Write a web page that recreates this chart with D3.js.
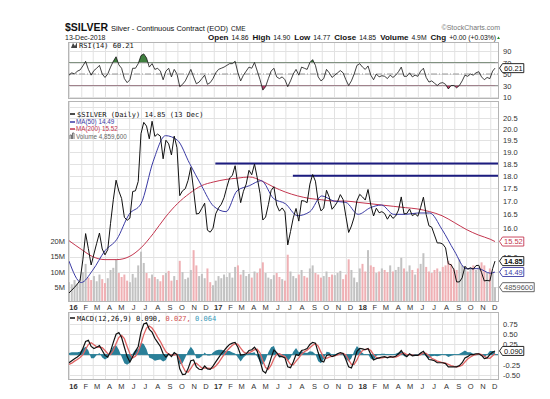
<!DOCTYPE html>
<html>
<head>
<meta charset="utf-8">
<script src="https://cdn.jsdelivr.net/npm/d3@7"></script>
<style>
  body { margin: 0; background: #fff; }
  svg { display: block; }
</style>
</head>
<body>
<svg id="chart" width="550" height="399"></svg>
<script>
// ---- data (weekly samples, first week 2016-01-01, last 2018-12-13) ----
const prices = [
  13.82, 13.91, 14.00, 14.10, 14.22, 14.89, 15.80, 15.27, 14.72, 15.09, 15.46, 15.82, 15.26,
  15.06, 15.24, 16.17, 17.05, 17.82, 17.39, 17.10, 16.39, 16.28, 16.36, 17.37, 17.40, 17.77,
  19.79, 20.30, 20.13, 19.56, 20.35, 19.67, 19.77, 19.68, 18.70, 19.50, 19.34, 18.86, 19.68, 19.17,
  17.21, 17.40, 17.48, 17.81, 18.34, 17.42, 16.51, 16.54, 16.73, 16.92, 15.92, 15.85, 15.99,
  16.52, 16.74, 16.88, 17.13, 17.54, 17.91, 18.01, 18.41, 17.63, 16.94, 17.38, 17.66, 18.22,
  18.04, 18.48, 17.91, 17.29, 16.29, 16.40, 16.86, 17.41, 17.56, 16.85, 16.62, 16.74, 16.59,
  15.40, 15.87, 16.37, 16.72, 16.25, 17.02, 17.00, 16.94, 17.66, 18.05, 17.78, 16.99, 16.63,
  16.73, 17.42, 17.15, 16.69, 16.82, 16.98, 17.25, 17.06, 16.43, 15.84, 16.07, 16.40, 17.02,
  17.26, 17.16, 17.04, 17.45, 16.85, 16.44, 16.73, 16.56, 16.60, 16.53, 16.32, 16.49, 16.35,
  16.44, 16.66, 17.16, 16.52, 16.53, 16.70, 16.45, 16.52, 16.43, 16.76, 17.15, 16.49, 16.08,
  16.03, 15.75, 15.47, 15.47, 15.43, 15.30, 14.76, 14.73, 14.57, 14.17, 14.17, 14.30, 14.68,
  14.58, 14.63, 14.58, 14.70, 14.71, 14.47, 14.20, 14.22, 14.20, 14.60, 14.85
];

// average daily volume, millions
const volumes = [
  6.5, 5.8, 7.2, 6.0, 7.5, 9.8, 12.5, 8.0, 7.2, 8.5, 6.8, 9.0, 7.5, 6.2, 7.8, 10.5, 11.2, 14.0,
  9.5, 8.2, 9.0, 7.0, 6.5, 9.2, 8.0, 12.0, 16.5, 12.8, 9.5, 7.8, 9.0, 8.2, 7.5, 6.8, 8.8, 9.5,
  10.2, 7.0, 8.5, 7.2, 13.5, 9.8, 7.5, 8.0, 10.5, 17.0, 12.0, 8.5, 9.2, 7.8, 11.0, 6.5, 5.5,
  7.0, 8.5, 7.8, 9.0, 8.2, 9.5, 8.0, 11.5, 12.0, 9.0, 10.5, 8.5, 9.2, 8.0, 10.0, 9.5, 11.0,
  13.0, 9.5, 8.0, 7.5, 8.8, 9.5, 8.2, 7.5, 7.0, 15.5, 10.0, 8.5, 7.8, 9.0, 10.5, 8.5, 8.0,
  11.0, 12.0, 9.5, 9.0, 8.0, 8.5, 10.0, 8.2, 9.0, 8.8, 9.5, 10.2, 7.5, 9.0, 14.0, 10.5, 8.0, 6.5,
  11.0, 12.5, 10.0, 17.0, 12.0, 11.5, 9.5, 10.0, 11.0, 10.5, 9.8, 12.0, 10.0, 10.5, 11.5, 14.5,
  11.0, 10.0, 12.0, 10.5, 9.0, 11.0, 12.5, 16.0, 11.5, 10.0, 9.5, 10.5, 11.0, 10.0, 11.5, 12.0,
  13.5, 12.5, 11.0, 10.5, 14.0, 12.0, 11.5, 10.0, 11.0, 12.0, 10.5, 11.5, 13.0, 12.0, 9.5, 11.0,
  10.0, 4.86
];

const rsi = [
  48, 52, 50, 55, 57, 64, 72, 58, 48, 56, 60, 65, 50, 44, 50, 62, 72, 80, 66, 60, 42, 35, 40,
  60, 60, 68, 82, 85, 78, 62, 68, 58, 60, 55, 40, 55, 60, 45, 58, 50, 28, 32, 38, 48, 58, 45,
  33, 36, 42, 48, 32, 35, 42,
  52, 58, 60, 62, 65, 68, 68, 72, 52, 38, 48, 55, 62, 60, 70, 55, 40, 22, 28, 42, 55, 60, 45,
  42, 45, 40, 28, 38, 50, 58, 48, 62, 60, 58, 70, 75, 65, 45, 38, 42, 58, 52, 44, 48, 52, 56,
  52, 40, 30, 38, 50, 65,
  68, 62, 58, 64, 48, 40, 50, 45, 47, 46, 42, 48, 44, 48, 54, 62, 46, 46, 52, 45, 48, 46, 55,
  60, 44, 36, 38, 34, 30, 34, 35, 32, 24, 30, 30, 26, 30, 38, 48, 46, 50, 48, 52, 54, 45, 40,
  44, 42, 55, 60.21
];

const macd = [
  -0.20, -0.15, -0.10, -0.06, 0.00, 0.15, 0.32, 0.35, 0.20, 0.15, 0.18, 0.22, 0.10, -0.02, -0.06,
  0.08, 0.30, 0.50, 0.54, 0.42, 0.18, -0.05, -0.18, -0.05, 0.08, 0.20, 0.55, 0.75, 0.78, 0.62,
  0.55, 0.40, 0.30, 0.20, 0.02, -0.06, 0.02, -0.05, 0.05, 0.00, -0.35, -0.49, -0.48, -0.35, -0.15,
  -0.13, -0.30, -0.36, -0.37, -0.28, -0.35, -0.36, -0.28,
  -0.18, -0.08, 0.02, 0.10, 0.18, 0.25, 0.28, 0.30, 0.18, -0.01, 0.00, 0.02, 0.10, 0.12, 0.18,
  0.08, -0.15, -0.40, -0.45, -0.30, -0.08, 0.11, 0.05, -0.05, -0.05, -0.08, -0.30, -0.32, -0.18,
  0.00, -0.02, 0.10, 0.12, 0.15, 0.25, 0.30, 0.28, 0.05, -0.15, -0.18, -0.02, 0.00, -0.05, -0.02,
  0.02, 0.05, 0.03, -0.12, -0.30, -0.33, -0.15, 0.08,
  0.15, 0.14, 0.12, 0.15, 0.00, -0.13, -0.10, -0.08, -0.06, -0.05, -0.08, -0.05, -0.06, -0.04,
  0.02, 0.10, 0.00, -0.05, 0.02, -0.03, -0.02, -0.02, 0.04, 0.08, -0.02, -0.12, -0.13, -0.15,
  -0.20, -0.20, -0.20, -0.22, -0.30, -0.30, -0.30, -0.30, -0.27, -0.20, -0.08, -0.05, 0.00, 0.00,
  0.02, 0.02, -0.02, -0.10, -0.08, 0.00, 0.06, 0.090
];

const signal = [
  -0.24, -0.21, -0.16, -0.12, -0.07, 0.00, 0.13, 0.25, 0.29, 0.24, 0.19, 0.18, 0.17, 0.10, 0.02,
  0.00, 0.10, 0.27, 0.42, 0.47, 0.39, 0.20, 0.02, -0.08, -0.04, 0.07, 0.26, 0.49, 0.65, 0.70,
  0.65, 0.55, 0.43, 0.32, 0.19, 0.07, 0.01, -0.01, -0.01, 0.01, -0.11, -0.28, -0.41, -0.43, -0.34,
  -0.23, -0.21, -0.27, -0.33, -0.33, -0.33, -0.34, -0.33,
  -0.28, -0.20, -0.10, 0.00, 0.09, 0.16, 0.23, 0.27, 0.25, 0.16, 0.07, 0.03, 0.04, 0.08, 0.12,
  0.13, 0.04, -0.15, -0.32, -0.36, -0.26, -0.10, 0.01, 0.02, -0.02, -0.05, -0.14, -0.24, -0.25,
  -0.16, -0.08, 0.01, 0.07, 0.11, 0.17, 0.23, 0.27, 0.21, 0.06, -0.07, -0.09, -0.06, -0.04, -0.03,
  -0.01, 0.02, 0.03, -0.01, -0.13, -0.24, -0.24, -0.13,
  0.02, 0.10, 0.13, 0.14, 0.10, 0.00, -0.07, -0.09, -0.08, -0.07, -0.07, -0.06, -0.06, -0.06,
  -0.03, 0.02, 0.04, 0.00, 0.00, -0.01, -0.02, -0.02, 0.00, 0.04, 0.03, -0.03, -0.09, -0.12,
  -0.16, -0.18, -0.20, -0.21, -0.24, -0.27, -0.29, -0.30, -0.29, -0.26, -0.18, -0.11, -0.06, -0.02,
  0.00, 0.02, 0.00, -0.04, -0.08, -0.09, -0.03, 0.027
];

// moving averages, read monthly
const maDates = [
  '2016-01-01', '2016-02-01', '2016-03-01', '2016-04-01', '2016-05-01', '2016-06-01',
  '2016-07-01', '2016-08-01', '2016-09-01', '2016-10-01', '2016-11-01', '2016-12-01',
  '2017-01-01', '2017-02-01', '2017-03-01', '2017-04-01', '2017-05-01', '2017-06-01',
  '2017-07-01', '2017-08-01', '2017-09-01', '2017-10-01', '2017-11-01', '2017-12-01',
  '2018-01-01', '2018-02-01', '2018-03-01', '2018-04-01', '2018-05-01', '2018-06-01',
  '2018-07-01', '2018-08-01', '2018-09-01', '2018-10-01', '2018-11-01', '2018-12-01', '2018-12-13'
];
const ma50 = [
  14.85, 14.15, 14.55, 15.2, 15.6, 16.5, 16.9, 18.6, 19.7, 19.5, 18.5, 17.6,
  16.8, 16.6, 17.4, 17.6, 17.8, 17.1, 16.9, 16.45, 16.6, 17.2, 17.0, 16.95,
  16.5, 16.75, 16.85, 16.5, 16.5, 16.55, 16.55, 15.95, 15.2, 14.6, 14.6, 14.45, 14.49
];
const ma200 = [
  15.55, 15.25, 15.0, 14.9, 14.9, 15.0, 15.3, 15.8, 16.4, 16.9, 17.3, 17.6,
  17.75, 17.85, 17.9, 17.95, 17.8, 17.55, 17.35, 17.2, 17.1, 17.05, 17.0, 17.0,
  16.95, 16.9, 16.85, 16.8, 16.75, 16.7, 16.6, 16.45, 16.2, 15.95, 15.75, 15.6, 15.52
];

// drawn support lines
const lineLevels = [18.5, 18.0];
const lineStarts = ['2017-01-05', '2017-07-20'];

// labels hidden under the value tags (15.5, 14.5, 14.0, 0.00) are left out
const priceTicks = [15.0, 16.0, 16.5, 17.0, 17.5, 18.0, 18.5, 19.0, 19.5, 20.0, 20.5];
const priceGrid = [14.0, 14.5, 15.0, 15.5, 16.0, 16.5, 17.0, 17.5, 18.0, 18.5, 19.0, 19.5, 20.0, 20.5, 21.0];
const volTicks = [5, 10, 15, 20];
const rsiTicks = [10, 30, 50, 70, 90];
const macdGrid = [-0.5, -0.25, 0, 0.25, 0.5, 0.75];
const macdTicks = [-0.5, -0.25, 0.25, 0.5, 0.75];

// ---- layout ----
const L = 68, R = 499;
const rsiTop = 42, rsiBot = 99, pTop = 101, pBot = 302, mTop = 312, mBot = 380;
const mono = '"DejaVu Sans Mono", monospace';
const sans = '"Liberation Sans", Arial, sans-serif';
const parse = d3.timeParse('%Y-%m-%d');

const svg = d3.select('#chart');

const dates = d3.timeFriday.range(new Date(2016, 0, 1), new Date(2018, 11, 14));
dates.push(new Date(2018, 11, 13));
const maD = maDates.map(parse);

const x = d3.scaleTime().domain([new Date(2016, 0, 1), new Date(2018, 11, 13)]).range([69, 495]);
const yP = d3.scaleLog().domain([20.5, 16]).range([118, 228]);
const yV = d3.scaleLinear().domain([0, 20]).range([pBot, 241]);
const yR = d3.scaleLinear().domain([10, 90]).range([97, 51]);
const yM = d3.scaleLinear().domain([-0.5, 0.75]).range([375, 324]);

const months = d3.timeMonth.range(new Date(2016, 0, 1), new Date(2018, 11, 14));

// panel frame + grid
function panel(top, bot, hLines, id) {
  const g = svg.append('g');
  g.append('rect').attr('x', L).attr('y', top).attr('width', R - L).attr('height', bot - top)
    .attr('fill', '#fff');
  g.selectAll('.v').data(months).join('line')
    .attr('x1', d => x(d) + 0.5).attr('x2', d => x(d) + 0.5)
    .attr('y1', top).attr('y2', bot)
    .attr('stroke', '#e2e2e2').attr('stroke-width', 1);
  g.selectAll('.h').data(hLines).join('line')
    .attr('x1', L).attr('x2', R)
    .attr('y1', d => Math.round(d) + 0.5).attr('y2', d => Math.round(d) + 0.5)
    .attr('stroke', '#e2e2e2').attr('stroke-width', 1);
  svg.append('clipPath').attr('id', id)
    .append('rect').attr('x', L).attr('y', top).attr('width', R - L).attr('height', bot - top);
  return g;
}

panel(rsiTop, rsiBot, rsiTicks.map(yR), 'clipR');
panel(pTop, pBot, priceGrid.map(yP), 'clipP');
panel(mTop, mBot, macdGrid.map(yM), 'clipM');

// ---- header ----
const title = svg.append('text').attr('x', 65).attr('y', 31).attr('font-family', sans).attr('fill', '#111');
title.append('tspan').attr('font-size', 10.5).attr('font-weight', 'bold').text('$SILVER');
title.append('tspan').attr('font-size', 7.5).attr('dx', 3).text('Silver - Continuous Contract (EOD)');
title.append('tspan').attr('font-size', 6.5).attr('dx', 3).text('CME');

svg.append('text').attr('x', 500).attr('y', 30).attr('text-anchor', 'end')
  .attr('font-family', sans).attr('font-size', 7).attr('fill', '#777').text('\u00a9StockCharts.com');

svg.append('text').attr('x', 65).attr('y', 40).attr('font-family', sans).attr('font-size', 7)
  .attr('fill', '#222').text('13-Dec-2018');

const quote = [['Open', '14.86'], ['High', '14.90'], ['Low', '14.77'], ['Close', '14.85'],
  ['Volume', '4.9M'], ['Chg', '+0.00 (+0.03%)']];
const q = svg.append('text').attr('x', 496).attr('y', 40).attr('text-anchor', 'end')
  .attr('font-family', sans).attr('fill', '#111');
quote.forEach((p, i) => {
  q.append('tspan').attr('font-size', 8).attr('font-weight', 'bold').attr('dx', i ? 4 : 0).text(p[0]);
  q.append('tspan').attr('font-size', 6.8).attr('dx', 3).text(p[1]);
});
svg.append('path').attr('d', 'M497,39 L500,39 L498.5,36.5 Z').attr('fill', '#2a8a2a');

// ---- RSI panel ----
const rsiPts = dates.map((d, i) => [x(d), yR(rsi[i])]);
svg.append('line').attr('x1', L).attr('x2', R).attr('y1', yR(70)).attr('y2', yR(70))
  .attr('stroke', '#999').attr('stroke-width', 1);
svg.append('line').attr('x1', L).attr('x2', R).attr('y1', yR(30)).attr('y2', yR(30))
  .attr('stroke', '#999').attr('stroke-width', 1);
svg.append('line').attr('x1', L).attr('x2', R).attr('y1', yR(50)).attr('y2', yR(50))
  .attr('stroke', '#999').attr('stroke-width', 1).attr('stroke-dasharray', '6,2,1,2');

svg.append('clipPath').attr('id', 'ob')
  .append('rect').attr('x', L).attr('y', rsiTop).attr('width', R - L).attr('height', yR(70) - rsiTop);
svg.append('clipPath').attr('id', 'os')
  .append('rect').attr('x', L).attr('y', yR(30)).attr('width', R - L).attr('height', rsiBot - yR(30));

svg.append('path').datum(rsiPts).attr('clip-path', 'url(#ob)')
  .attr('d', d3.area().x(d => d[0]).y0(yR(70)).y1(d => d[1]))
  .attr('fill', '#3f7f3f');
svg.append('path').datum(rsiPts).attr('clip-path', 'url(#os)')
  .attr('d', d3.area().x(d => d[0]).y0(yR(30)).y1(d => d[1]))
  .attr('fill', '#b8406a');
svg.append('path').datum(rsiPts).attr('clip-path', 'url(#clipR)')
  .attr('d', d3.line()).attr('fill', 'none').attr('stroke', '#111').attr('stroke-width', 0.8);

svg.selectAll('.rsiLab').data(rsiTicks).join('text')
  .attr('x', 503).attr('y', d => yR(d) + 3)
  .attr('font-family', sans).attr('font-size', 7.5).attr('fill', '#333').text(d => d);

const rl = svg.append('g');
rl.append('path').attr('d', 'M71,48 L73,43 L75,46 L77,42 L77,48 Z').attr('fill', '#444');
rl.append('text').attr('x', 79).attr('y', 48).attr('font-family', mono).attr('font-size', 7)
  .attr('fill', '#111').text('RSI(14) 60.21');

// ---- price panel ----
const pClip = svg.append('g').attr('clip-path', 'url(#clipP)');

// volume bars behind the price
pClip.selectAll('.vol').data(volumes).join('rect')
  .attr('x', (d, i) => x(dates[i]) - 1)
  .attr('width', 2)
  .attr('y', d => yV(d))
  .attr('height', d => pBot - yV(d))
  .attr('fill', (d, i) => (i > 0 && prices[i] < prices[i - 1]) ? '#efb0b4' : '#c2c2c2');

// support lines
pClip.selectAll('.sup').data(lineLevels).join('line')
  .attr('x1', (d, i) => x(parse(lineStarts[i]))).attr('x2', R)
  .attr('y1', d => yP(d)).attr('y2', d => yP(d))
  .attr('stroke', '#1c1c80').attr('stroke-width', 2);

const maLine = d3.line().curve(d3.curveMonotoneX);
pClip.append('path').datum(maD.map((d, i) => [x(d), yP(ma200[i])]))
  .attr('d', maLine).attr('fill', 'none').attr('stroke', '#c4364f').attr('stroke-width', 1);
pClip.append('path').datum(maD.map((d, i) => [x(d), yP(ma50[i])]))
  .attr('d', maLine).attr('fill', 'none').attr('stroke', '#3a3aa4').attr('stroke-width', 1);
pClip.append('path').datum(dates.map((d, i) => [x(d), yP(prices[i])]))
  .attr('d', d3.line()).attr('fill', 'none').attr('stroke', '#111').attr('stroke-width', 1);

// price axis (right)
svg.selectAll('.pLab').data(priceTicks).join('text')
  .attr('x', 503).attr('y', d => yP(d) + 3)
  .attr('font-family', sans).attr('font-size', 7.5).attr('fill', '#333').text(d => d.toFixed(1));
// volume axis (left)
svg.selectAll('.vLab').data(volTicks).join('text')
  .attr('x', 65).attr('y', d => yV(d) + 3).attr('text-anchor', 'end')
  .attr('font-family', sans).attr('font-size', 7.5).attr('fill', '#333').text(d => d + 'M');

// legend
const lg = svg.append('g');
lg.append('line').attr('x1', 70).attr('x2', 75).attr('y1', 114).attr('y2', 114).attr('stroke', '#111').attr('stroke-width', 1.5);
lg.append('text').attr('x', 77).attr('y', 116.5).attr('font-family', mono).attr('font-size', 7)
  .attr('fill', '#111').text('$SILVER (Daily) 14.85 (13 Dec)');
const legRows = [['MA(50) 14.49', '#3a3aa4'], ['MA(200) 15.52', '#c4364f']];
legRows.forEach((r, i) => {
  const yy = 122 + i * 7;
  lg.append('line').attr('x1', 70).attr('x2', 75).attr('y1', yy).attr('y2', yy).attr('stroke', r[1]).attr('stroke-width', 1.5);
  lg.append('text').attr('x', 76).attr('y', yy + 2.2).attr('font-family', sans).attr('font-size', 6.3)
    .attr('fill', r[1]).text(r[0]);
});
lg.append('path').attr('d', 'M70,139 V135 H71.5 V139 M72.5,139 V133 H74 V139').attr('fill', 'none').attr('stroke', '#666').attr('stroke-width', 0.9);
lg.append('text').attr('x', 76).attr('y', 138.7).attr('font-family', sans).attr('font-size', 6.3)
  .attr('fill', '#666').text('Volume 4,859,600');

// ---- MACD panel ----
const mClip = svg.append('g').attr('clip-path', 'url(#clipM)');
mClip.append('path').datum(dates.map((d, i) => [x(d), macd[i] - signal[i]]))
  .attr('d', d3.area().x(d => d[0]).y0(yM(0)).y1(d => yM(d[1])))
  .attr('fill', '#2a7f98');
mClip.append('line').attr('x1', L).attr('x2', R).attr('y1', yM(0)).attr('y2', yM(0))
  .attr('stroke', '#2a7f98').attr('stroke-width', 1);
mClip.append('path').datum(dates.map((d, i) => [x(d), yM(signal[i])]))
  .attr('d', d3.line()).attr('fill', 'none').attr('stroke', '#e06464').attr('stroke-width', 1.3);
mClip.append('path').datum(dates.map((d, i) => [x(d), yM(macd[i])]))
  .attr('d', d3.line()).attr('fill', 'none').attr('stroke', '#111').attr('stroke-width', 1.2);

svg.selectAll('.mLab').data(macdTicks).join('text')
  .attr('x', 503).attr('y', d => yM(d) + 3)
  .attr('font-family', sans).attr('font-size', 7.5).attr('fill', '#333').text(d => d.toFixed(2));

const ml = svg.append('text').attr('x', 77).attr('y', 320.5).attr('font-family', mono).attr('font-size', 7);
ml.append('tspan').attr('fill', '#111').text('MACD(12,26,9) 0.090,');
ml.append('tspan').attr('fill', '#d05050').text(' 0.027,');
ml.append('tspan').attr('fill', '#3a9ab8').text(' 0.064');
svg.append('line').attr('x1', 70).attr('x2', 75).attr('y1', 318).attr('y2', 318).attr('stroke', '#111').attr('stroke-width', 1.5);

// ---- month labels ----
[307, 386].forEach(yy => {
  svg.selectAll(null).data(months).join('text')
    .attr('x', d => x(d) + 4.5).attr('y', yy + 3).attr('text-anchor', 'middle')
    .attr('font-family', sans).attr('font-size', 7.5)
    .attr('font-weight', d => d.getMonth() === 0 ? 'bold' : 'normal')
    .attr('fill', '#333')
    .text(d => d.getMonth() === 0 ? d3.timeFormat('%y')(d) : d3.timeFormat('%b')(d)[0]);
});

// panel borders on top
[[rsiTop, rsiBot], [pTop, pBot], [mTop, mBot]].forEach(p => {
  svg.append('rect').attr('x', L + 0.5).attr('y', p[0] + 0.5).attr('width', R - L - 1).attr('height', p[1] - p[0] - 1)
    .attr('fill', 'none').attr('stroke', '#b5b5b5');
});

// ---- value tags on the right ----
function tag(yy, txt, color, bold) {
  const g = svg.append('g');
  const path = g.append('path');
  const t = g.append('text').attr('x', 504).attr('y', yy + 2.8)
    .attr('font-family', sans).attr('font-size', 7.5).attr('fill', color)
    .attr('font-weight', bold ? 'bold' : 'normal').text(txt);
  const w = t.node().getComputedTextLength();
  path.attr('d', `M499.5,${yy} L502.5,${yy - 4.5} H${505 + w} V${yy + 4.5} H502.5 Z`)
    .attr('fill', '#fff').attr('stroke', color).attr('stroke-width', 0.9);
}
tag(yR(60.21), '60.21', '#111', false);
tag(yP(15.52), '15.52', '#c4364f', false);
tag(yP(14.85), '14.85', '#111', true);
tag(yP(14.49), '14.49', '#3a3aa4', false);
tag(yV(4.8596), '4859600', '#555', false);
tag(yM(0.090), '0.090', '#111', false);
</script>
</body>
</html>
